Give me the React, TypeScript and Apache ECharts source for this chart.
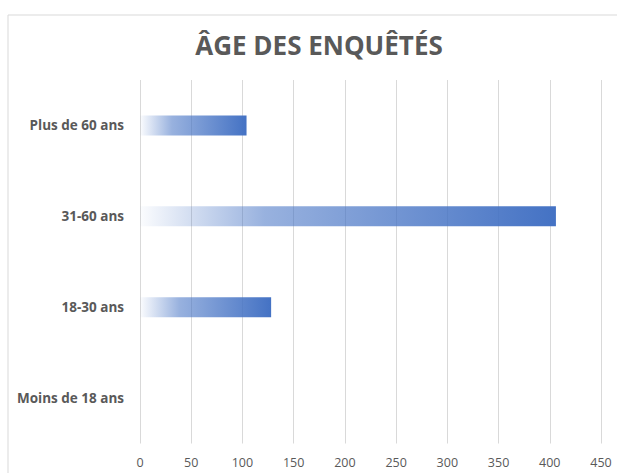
import React, { useEffect, useRef } from "react";
import * as echarts from "echarts";

const categories = ["Moins de 18 ans", "18-30 ans", "31-60 ans", "Plus de 60 ans"];
const values = [0, 128, 406, 104];
const xTicks = { min: 0, max: 450, interval: 50 };
const titleText = "ÂGE DES ENQUÊTÉS";

export default function App() {
  const ref = useRef<HTMLDivElement>(null);
  useEffect(() => {
    document.body.style.margin = "0";
    const chart = echarts.init(ref.current!, null, { renderer: "svg" });
    const font = "'Open Sans', 'Liberation Sans', sans-serif";
    chart.setOption({
      animation: false,
      backgroundColor: "#ffffff",
      graphic: [
        {
          type: "rect",
          shape: { x: 8, y: 15, width: 700, height: 600 },
          style: { fill: "none", stroke: "#d9d9d9", lineWidth: 1 },
          silent: true,
          z: -1,
        },
        {
          type: "text",
          x: 319,
          y: 45,
          style: {
            text: titleText,
            font: `bold 26px ${font}`,
            fill: "#595959",
            textAlign: "center",
            textVerticalAlign: "middle",
          },
        },
      ],
      grid: { left: 140, right: 16, top: 80, bottom: 29.5, containLabel: false },
      xAxis: {
        type: "value",
        min: xTicks.min,
        max: xTicks.max,
        interval: xTicks.interval,
        axisLine: { show: false },
        axisTick: { show: false },
        splitLine: { show: true, lineStyle: { color: "#d9d9d9", width: 1 } },
        axisLabel: { color: "#595959", fontSize: 12.5, fontFamily: font, margin: 12 },
      },
      yAxis: {
        type: "category",
        data: categories,
        axisLine: { show: false },
        axisTick: { show: false },
        splitLine: { show: false },
        axisLabel: {
          color: "#595959",
          fontSize: 13.5,
          fontWeight: "bold",
          fontFamily: font,
          margin: 16,
        },
      },
      series: [
        {
          type: "bar",
          data: values,
          barWidth: 20,
          itemStyle: {
            color: new echarts.graphic.LinearGradient(0, 0, 1, 0, [
              { offset: 0, color: "rgba(68,114,196,0.02)" },
              { offset: 0.3, color: "rgba(68,114,196,0.55)" },
              { offset: 1, color: "#4472C4" },
            ]),
          },
        },
      ],
    });
    return () => chart.dispose();
  }, []);
  return <div ref={ref} style={{ width: 617, height: 473 }} />;
}
